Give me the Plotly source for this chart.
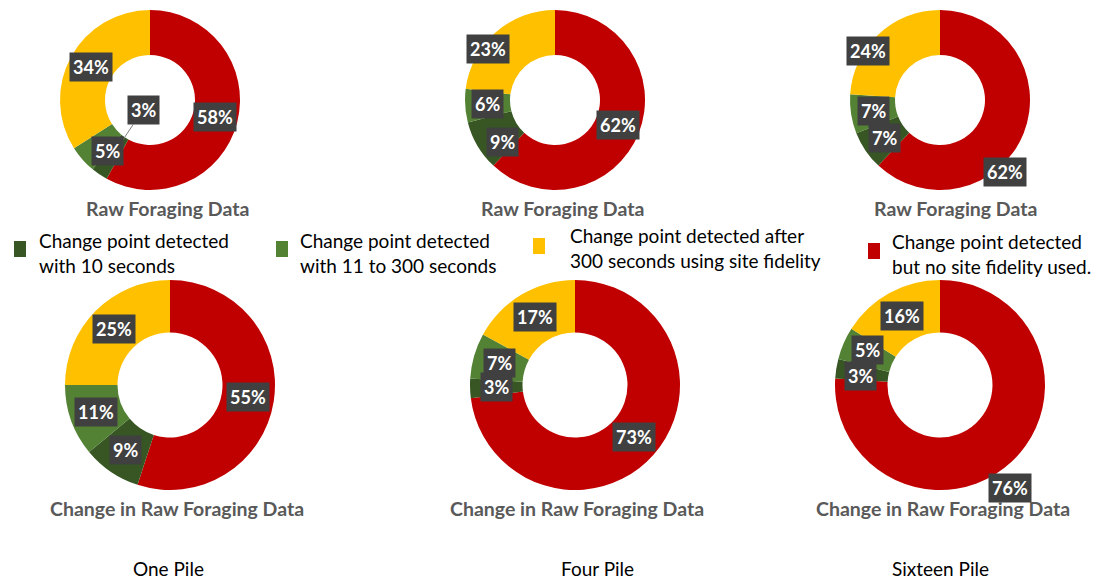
import math
import plotly.graph_objects as go

W, H = 1107, 579

categories = [
    "Change point detected but no site fidelity used.",
    "Change point detected with 10 seconds",
    "Change point detected with 11 to 300 seconds",
    "Change point detected after 300 seconds using site fidelity",
]
colors = ["#C00000", "#375623", "#548235", "#FFC000"]

raw_one = [58, 3, 5, 34]
raw_four = [62, 9, 6, 23]
raw_sixteen = [62, 7, 7, 24]
chg_one = [55, 9, 11, 25]
chg_four = [73, 3, 7, 17]
chg_sixteen = [76, 3, 5, 16]

top_title = "Raw Foraging Data"
bottom_title = "Change in Raw Foraging Data"
column_labels = ["One Pile", "Four Pile", "Sixteen Pile"]

legend_order = [1, 2, 3, 0]
legend_texts = [
    "Change point detected<br>with 10 seconds",
    "Change point detected<br>with 11 to 300 seconds",
    "Change point detected after<br>300 seconds using site fidelity",
    "Change point detected<br>but no site fidelity used.",
]

# layout geometry (pixels): center x, center y, outer radius
charts = [
    (raw_one, 150, 100, 90),
    (raw_four, 555, 100, 90),
    (raw_sixteen, 940, 100, 90),
    (chg_one, 170, 385, 105),
    (chg_four, 575, 385, 105),
    (chg_sixteen, 940, 385, 105),
]
HOLE = 0.5

# label shift tweaks (chart, slice) -> (dx, dy) px
label_shift = {
    (0, 2): (8, 6),
    (1, 3): (-22, 0),
    (1, 1): (6, 8),
    (2, 3): (-26, 0),
    (2, 0): (2, 47),
    (5, 0): (16, 46),
    (5, 1): (-2, 3),
    (5, 2): (0, -4),
}
# labels drawn with a leader line: (chart, slice) -> (ax, ay)
leader = {(0, 1): (20, -30)}

LABEL_FONT = dict(family="Lato", size=18, color="white", weight="bold")

fig = go.Figure()
annotations = []


def px(x):
    return x / W


def py(y):
    return 1 - y / H


for ci, (vals, cx, cy, r) in enumerate(charts):
    fig.add_trace(go.Pie(
        labels=categories,
        values=vals,
        hole=HOLE,
        sort=False,
        direction="clockwise",
        rotation=0,
        marker=dict(colors=colors, line=dict(width=0)),
        textinfo="none",
        hoverinfo="label+percent",
        showlegend=False,
        domain=dict(x=[px(cx - r), px(cx + r)], y=[py(cy + r), py(cy - r)]),
    ))
    total = sum(vals)
    cum = 0
    rmid = r * (1 + HOLE) / 2
    for si, v in enumerate(vals):
        mid = (cum + v / 2) / total * 2 * math.pi
        cum += v
        text = f"{round(v / total * 100)}%"
        if (ci, si) in leader:
            rin = r * HOLE + 3
            tx = cx + rin * math.sin(mid)
            ty = cy - rin * math.cos(mid)
            ax, ay = leader[(ci, si)]
            annotations.append(dict(
                x=px(tx), y=py(ty), xref="paper", yref="paper",
                text=text, showarrow=True, ax=ax, ay=ay, arrowhead=0,
                arrowwidth=1, arrowcolor="#7f7f7f",
                bgcolor="#404040", borderpad=3, font=LABEL_FONT,
            ))
            continue
        lx = cx + rmid * math.sin(mid)
        ly = cy - rmid * math.cos(mid)
        dx, dy = label_shift.get((ci, si), (0, 0))
        annotations.append(dict(
            x=px(lx + dx), y=py(ly + dy), xref="paper", yref="paper",
            text=text, showarrow=False, xanchor="center", yanchor="middle",
            bgcolor="#404040", borderpad=3, font=LABEL_FONT,
        ))

# chart titles
top_title_x = [167, 562, 955]
bottom_title_x = [177, 577, 943]
col_x = [168, 597, 940]
for i in range(3):
    annotations.append(dict(x=px(top_title_x[i]), y=py(208), xref="paper", yref="paper",
                            text=top_title, showarrow=False, xanchor="center", yanchor="middle",
                            font=dict(family="Lato", size=19.5, color="#595959", weight="bold")))
    annotations.append(dict(x=px(bottom_title_x[i]), y=py(508), xref="paper", yref="paper",
                            text=bottom_title, showarrow=False, xanchor="center", yanchor="middle",
                            font=dict(family="Lato", size=19.5, color="#595959", weight="bold")))
    annotations.append(dict(x=px(col_x[i]), y=py(568), xref="paper", yref="paper",
                            text=column_labels[i], showarrow=False, xanchor="center", yanchor="middle",
                            font=dict(family="Lato", size=19, color="black")))

# legend
leg_sq_x = [14, 276, 533, 868]
leg_sq_y = [249, 249, 246, 251]
leg_tx = [37, 298, 568, 890]
leg_ty = [253, 253, 248, 254]
shapes = []
for k in range(4):
    ci = legend_order[k]
    shapes.append(dict(type="rect", xref="paper", yref="paper",
                       x0=px(leg_sq_x[k]), x1=px(leg_sq_x[k] + 12),
                       y0=py(leg_sq_y[k] + 8), y1=py(leg_sq_y[k] - 8),
                       fillcolor=colors[ci], line=dict(width=0)))
    annotations.append(dict(x=px(leg_tx[k]), y=py(leg_ty[k]), xref="paper", yref="paper",
                            text=legend_texts[k], showarrow=False, xanchor="left", yanchor="middle",
                            align="left",
                            font=dict(family="Lato", size=19, color="black")))

fig.update_layout(
    width=W, height=H,
    margin=dict(l=0, r=0, t=0, b=0),
    paper_bgcolor="white", plot_bgcolor="white",
    annotations=annotations, shapes=shapes,
    showlegend=False,
)

fig.write_html("out.html", config={"displayModeBar": False},
               post_script="document.body.style.margin='0';")
